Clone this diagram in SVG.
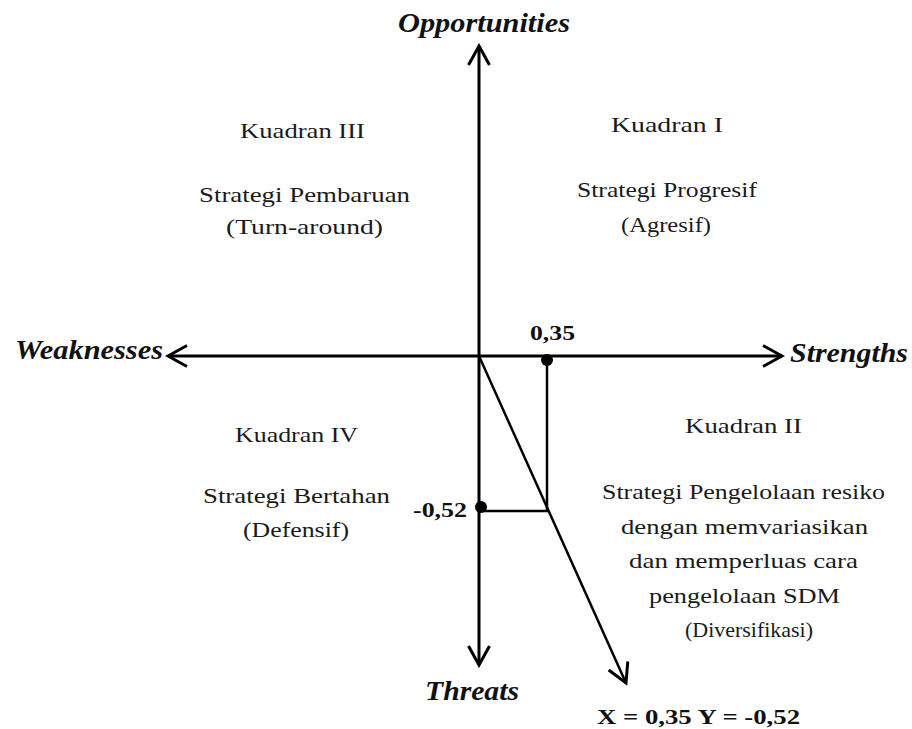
<svg xmlns="http://www.w3.org/2000/svg" width="912" height="729" viewBox="0 0 912 729">
<defs>
<marker id="arr" viewBox="0 0 24 24" refX="21" refY="12" markerWidth="24" markerHeight="24" markerUnits="userSpaceOnUse" orient="auto">
<path d="M2,1.5 L21,12 L2,22.5" fill="none" stroke="#000" stroke-width="3"/>
</marker>
<style>
.ax{stroke:#000;stroke-width:3;fill:none}
.ln{stroke:#000;stroke-width:2.5;fill:none}
.t{font-family:"Liberation Serif","Times New Roman",serif;font-size:22px;fill:#1a1a1a}
.h{font-family:"Liberation Serif","Times New Roman",serif;font-size:27px;font-weight:bold;font-style:italic;fill:#111}
.b{font-family:"Liberation Serif","Times New Roman",serif;font-size:21px;font-weight:bold;fill:#111}
</style>
</defs>
<rect width="912" height="729" fill="#fff"/>
<g id="connectors">
<line class="ax" x1="479" y1="356" x2="479" y2="46" marker-end="url(#arr)"/>
<line class="ax" x1="479" y1="356" x2="479" y2="665" marker-end="url(#arr)"/>
<line class="ax" x1="479" y1="356" x2="168" y2="356" marker-end="url(#arr)"/>
<line class="ax" x1="479" y1="356" x2="782" y2="356" marker-end="url(#arr)"/>
<line class="ln" x1="479" y1="356" x2="626" y2="683" marker-end="url(#arr)"/>
<line class="ln" x1="547" y1="360" x2="547" y2="511"/>
<line class="ln" x1="481" y1="511" x2="548" y2="511"/>
<circle cx="547" cy="360" r="6" fill="#000"/>
<circle cx="481" cy="507" r="6" fill="#000"/>
</g>
<g id="axis-labels">
<text class="h" x="398" y="32" textLength="172" lengthAdjust="spacingAndGlyphs">Opportunities</text>
<text class="h" x="15" y="359" textLength="148" lengthAdjust="spacingAndGlyphs">Weaknesses</text>
<text class="h" x="790" y="362" textLength="118" lengthAdjust="spacingAndGlyphs">Strengths</text>
<text class="h" x="425" y="700" textLength="94" lengthAdjust="spacingAndGlyphs">Threats</text>
</g>
<g id="values">
<text class="b" x="530" y="340" textLength="45" lengthAdjust="spacingAndGlyphs">0,35</text>
<text class="b" x="413" y="517" textLength="54" lengthAdjust="spacingAndGlyphs">-0,52</text>
<text class="b" x="597" y="724" textLength="203" lengthAdjust="spacingAndGlyphs">X = 0,35  Y = -0,52</text>
</g>
<g id="kuadran-iii">
<text class="t" x="240" y="138" textLength="125" lengthAdjust="spacingAndGlyphs">Kuadran III</text>
<text class="t" x="199" y="202" textLength="211" lengthAdjust="spacingAndGlyphs">Strategi Pembaruan</text>
<text class="t" x="226" y="234" textLength="157" lengthAdjust="spacingAndGlyphs">(Turn-around)</text>
</g>
<g id="kuadran-i">
<text class="t" x="611" y="132" textLength="112" lengthAdjust="spacingAndGlyphs">Kuadran I</text>
<text class="t" x="577" y="197" textLength="180" lengthAdjust="spacingAndGlyphs">Strategi Progresif</text>
<text class="t" x="621" y="232" textLength="90" lengthAdjust="spacingAndGlyphs">(Agresif)</text>
</g>
<g id="kuadran-iv">
<text class="t" x="235" y="442" textLength="123" lengthAdjust="spacingAndGlyphs">Kuadran IV</text>
<text class="t" x="203" y="503" textLength="187" lengthAdjust="spacingAndGlyphs">Strategi Bertahan</text>
<text class="t" x="243" y="537" textLength="106" lengthAdjust="spacingAndGlyphs">(Defensif)</text>
</g>
<g id="kuadran-ii">
<text class="t" x="685" y="433" textLength="117" lengthAdjust="spacingAndGlyphs">Kuadran II</text>
<text class="t" x="602" y="499" textLength="283" lengthAdjust="spacingAndGlyphs">Strategi Pengelolaan resiko</text>
<text class="t" x="621" y="534" textLength="247" lengthAdjust="spacingAndGlyphs">dengan memvariasikan</text>
<text class="t" x="629" y="568" textLength="229" lengthAdjust="spacingAndGlyphs">dan memperluas cara</text>
<text class="t" x="649" y="603" textLength="191" lengthAdjust="spacingAndGlyphs">pengelolaan SDM</text>
<text class="t" x="685" y="637" textLength="128" lengthAdjust="spacingAndGlyphs">(Diversifikasi)</text>
</g>
</svg>
